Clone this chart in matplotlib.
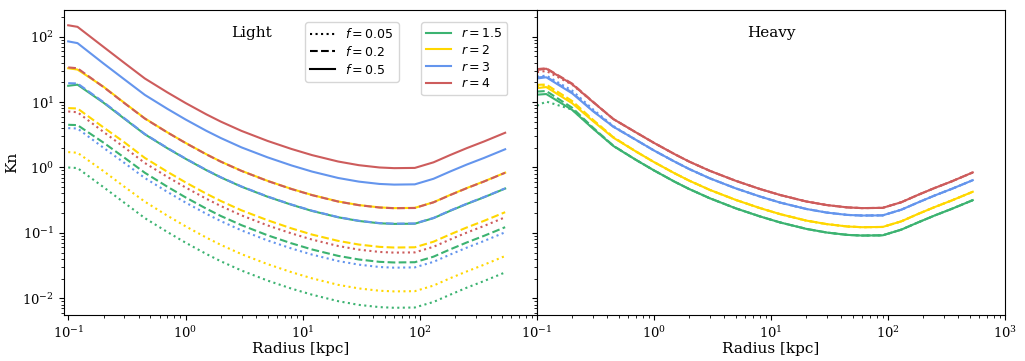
import matplotlib
matplotlib.use('Agg')
import matplotlib.pyplot as plt
from matplotlib.lines import Line2D

plt.rcParams['font.family'] = 'serif'
plt.rcParams['font.serif'] = ['DejaVu Serif']

# radius grid [kpc]
radius = [0.1, 0.12, 0.2, 0.3, 0.45, 0.7, 1, 1.5, 2, 3, 5, 8, 12, 20, 30, 45, 60, 90, 130, 180, 250, 350, 530]

f_vals = [0.5, 0.2, 0.05]
r_vals = [1.5, 2, 3, 4]
r_colors = ['mediumseagreen', 'gold', 'cornflowerblue', 'indianred']
f_styles = ['-', '--', ':']

# Light
light_05_r4 = [150, 142, 70, 40, 23, 14.1, 9.7, 6.52, 5.03, 3.63, 2.55, 1.92, 1.545, 1.234, 1.085, 1.0, 0.977, 0.985, 1.2, 1.55, 1.98, 2.5, 3.4]
light_05_r3 = [85, 80, 39, 22.4, 12.9, 7.9, 5.43, 3.65, 2.82, 2.03, 1.43, 1.075, 0.865, 0.691, 0.608, 0.56, 0.547, 0.552, 0.672, 0.868, 1.11, 1.4, 1.9]
light_05_r2 = [33, 31.5, 17.2, 9.8, 5.64, 3.45, 2.38, 1.60, 1.23, 0.889, 0.625, 0.47, 0.379, 0.302, 0.266, 0.245, 0.239, 0.241, 0.294, 0.38, 0.485, 0.6125, 0.833]
light_05_r15 = [17.8, 18.5, 9.8, 5.6, 3.22, 1.97, 1.36, 0.913, 0.704, 0.508, 0.357, 0.269, 0.216, 0.173, 0.152, 0.14, 0.137, 0.138, 0.168, 0.217, 0.277, 0.35, 0.476]
light_02_r4 = [34, 33, 17.0, 9.7, 5.6, 3.44, 2.37, 1.59, 1.227, 0.886, 0.622, 0.468, 0.377, 0.301, 0.265, 0.244, 0.238, 0.240, 0.293, 0.378, 0.483, 0.61, 0.83]
light_02_r3 = [19.5, 19.3, 10.0, 5.7, 3.25, 1.99, 1.37, 0.919, 0.709, 0.512, 0.36, 0.271, 0.218, 0.174, 0.153, 0.141, 0.138, 0.139, 0.169, 0.219, 0.279, 0.3525, 0.479]
light_02_r2 = [8.1, 8.0, 4.1, 2.44, 1.40, 0.86, 0.592, 0.398, 0.307, 0.221, 0.156, 0.117, 0.094, 0.0753, 0.0662, 0.061, 0.0596, 0.0601, 0.0732, 0.0946, 0.121, 0.1525, 0.207]
light_02_r15 = [4.5, 4.45, 2.4, 1.42, 0.83, 0.508, 0.349, 0.235, 0.181, 0.131, 0.0918, 0.0691, 0.0556, 0.0444, 0.0391, 0.036, 0.0352, 0.0355, 0.0432, 0.0558, 0.0713, 0.09, 0.122]
light_005_r4 = [7.2, 7.0, 3.5, 2.04, 1.17, 0.719, 0.495, 0.333, 0.257, 0.185, 0.130, 0.098, 0.0788, 0.0629, 0.0553, 0.051, 0.0498, 0.0502, 0.0612, 0.079, 0.101, 0.1275, 0.173]
light_005_r3 = [4.0, 3.95, 2.0, 1.18, 0.69, 0.423, 0.291, 0.196, 0.151, 0.109, 0.0765, 0.0576, 0.0464, 0.037, 0.0326, 0.030, 0.0293, 0.0296, 0.036, 0.0465, 0.0594, 0.075, 0.102]
light_005_r2 = [1.72, 1.68, 0.88, 0.51, 0.30, 0.183, 0.126, 0.0848, 0.0654, 0.0472, 0.0332, 0.025, 0.0201, 0.016, 0.0141, 0.013, 0.0127, 0.0128, 0.0156, 0.0202, 0.0257, 0.0325, 0.0442]
light_005_r15 = [1.0, 0.98, 0.5, 0.29, 0.168, 0.103, 0.0708, 0.0476, 0.0367, 0.0265, 0.0186, 0.014, 0.0113, 0.009, 0.0079, 0.0073, 0.00713, 0.0072, 0.00876, 0.0113, 0.0145, 0.0183, 0.0248]

# Heavy
heavy_05_r4 = [31, 32.5, 18.8, 10.1, 5.5, 3.45, 2.38, 1.60, 1.23, 0.889, 0.625, 0.47, 0.379, 0.302, 0.266, 0.245, 0.239, 0.241, 0.294, 0.38, 0.485, 0.6125, 0.84]
heavy_05_r3 = [23, 24, 13.6, 7.3, 4.2, 2.65, 1.82, 1.23, 0.946, 0.682, 0.479, 0.361, 0.29, 0.232, 0.204, 0.188, 0.184, 0.185, 0.226, 0.291, 0.372, 0.47, 0.639]
heavy_05_r2 = [16.4, 17, 9.6, 5.15, 2.85, 1.76, 1.21, 0.815, 0.629, 0.454, 0.319, 0.24, 0.193, 0.154, 0.136, 0.125, 0.122, 0.123, 0.15, 0.194, 0.2475, 0.3125, 0.425]
heavy_05_r15 = [13, 13.3, 7.6, 3.95, 2.13, 1.31, 0.902, 0.606, 0.468, 0.338, 0.237, 0.179, 0.144, 0.115, 0.101, 0.093, 0.0909, 0.0916, 0.112, 0.144, 0.184, 0.2325, 0.316]
heavy_02_r4 = [32, 33, 19.2, 10.2, 5.5, 3.45, 2.38, 1.60, 1.23, 0.889, 0.625, 0.47, 0.379, 0.302, 0.266, 0.245, 0.239, 0.241, 0.294, 0.38, 0.485, 0.6125, 0.84]
heavy_02_r3 = [23.8, 24.5, 14.0, 7.4, 4.2, 2.65, 1.82, 1.23, 0.946, 0.682, 0.479, 0.361, 0.29, 0.232, 0.204, 0.188, 0.184, 0.185, 0.226, 0.291, 0.372, 0.47, 0.639]
heavy_02_r2 = [18.4, 18.6, 10.4, 5.4, 2.9, 1.76, 1.21, 0.815, 0.629, 0.454, 0.319, 0.24, 0.193, 0.154, 0.136, 0.125, 0.122, 0.123, 0.15, 0.194, 0.2475, 0.3125, 0.425]
heavy_02_r15 = [14.5, 14.8, 8.2, 4.1, 2.15, 1.31, 0.902, 0.606, 0.468, 0.338, 0.237, 0.179, 0.144, 0.115, 0.101, 0.093, 0.0909, 0.0916, 0.112, 0.144, 0.184, 0.2325, 0.316]
heavy_005_r4 = [28.7, 30, 18.5, 10.1, 5.5, 3.45, 2.38, 1.60, 1.23, 0.889, 0.625, 0.47, 0.379, 0.302, 0.266, 0.245, 0.239, 0.241, 0.294, 0.38, 0.485, 0.6125, 0.84]
heavy_005_r3 = [24.5, 25.5, 15.0, 7.8, 4.3, 2.65, 1.82, 1.23, 0.946, 0.682, 0.479, 0.361, 0.29, 0.232, 0.204, 0.188, 0.184, 0.185, 0.226, 0.291, 0.372, 0.47, 0.639]
heavy_005_r2 = [17.5, 18.0, 10.0, 5.3, 2.9, 1.76, 1.21, 0.815, 0.629, 0.454, 0.319, 0.24, 0.193, 0.154, 0.136, 0.125, 0.122, 0.123, 0.15, 0.194, 0.2475, 0.3125, 0.425]
heavy_005_r15 = [8.8, 10.2, 7.7, 4.0, 2.13, 1.31, 0.902, 0.606, 0.468, 0.338, 0.237, 0.179, 0.144, 0.115, 0.101, 0.093, 0.0909, 0.0916, 0.112, 0.144, 0.184, 0.2325, 0.316]

# rows follow f_vals, columns follow r_vals
light = [[light_05_r15, light_05_r2, light_05_r3, light_05_r4],
         [light_02_r15, light_02_r2, light_02_r3, light_02_r4],
         [light_005_r15, light_005_r2, light_005_r3, light_005_r4]]
heavy = [[heavy_05_r15, heavy_05_r2, heavy_05_r3, heavy_05_r4],
         [heavy_02_r15, heavy_02_r2, heavy_02_r3, heavy_02_r4],
         [heavy_005_r15, heavy_005_r2, heavy_005_r3, heavy_005_r4]]

fig, (ax1, ax2) = plt.subplots(1, 2, figsize=(10.25, 3.61), dpi=100, sharey=True,
                               gridspec_kw={'width_ratios': [473, 468]})
fig.subplots_adjust(left=0.0624, right=0.9805, top=0.972, bottom=0.127, wspace=0)

# Light: solid first so the dashed ones sit on top
for i in range(len(f_vals)):
    for j in range(len(r_vals)):
        ax1.plot(radius, light[i][j], color=r_colors[j], ls=f_styles[i], lw=1.5)

# Heavy: solid last
for i in [2, 1, 0]:
    for j in range(len(r_vals)):
        ax2.plot(radius, heavy[i][j], color=r_colors[j], ls=f_styles[i], lw=1.5)

for ax in (ax1, ax2):
    ax.set_xscale('log')
    ax.set_yscale('log')
    ax.tick_params(labelsize=9.5)
    ax.set_xlabel('Radius [kpc]', fontsize=11, labelpad=1)
ax1.set_xlim(0.092, 990)
ax2.set_xlim(0.1, 1000)
ax1.set_ylim(5.5e-3, 256)
ax1.set_ylabel('Kn', fontsize=11, labelpad=2)

ax1.text(0.397, 0.925, 'Light', transform=ax1.transAxes, ha='center', va='center', fontsize=11)
ax2.text(0.5, 0.925, 'Heavy', transform=ax2.transAxes, ha='center', va='center', fontsize=11)

style_handles = [Line2D([], [], color='k', ls=f_styles[i], lw=1.5, label='$f=%s$' % f_vals[i])
                 for i in [2, 1, 0]]
color_handles = [Line2D([], [], color=r_colors[j], lw=1.5, label='$r=%s$' % r_vals[j])
                 for j in range(len(r_vals))]
leg1 = ax1.legend(handles=style_handles, loc='upper left', bbox_to_anchor=(0.51, 0.961),
                  borderaxespad=0, fontsize=9, labelspacing=0.3)
ax1.add_artist(leg1)
ax1.legend(handles=color_handles, loc='upper left', bbox_to_anchor=(0.755, 0.961),
           borderaxespad=0, fontsize=9, labelspacing=0.3)

plt.savefig('out.png')
